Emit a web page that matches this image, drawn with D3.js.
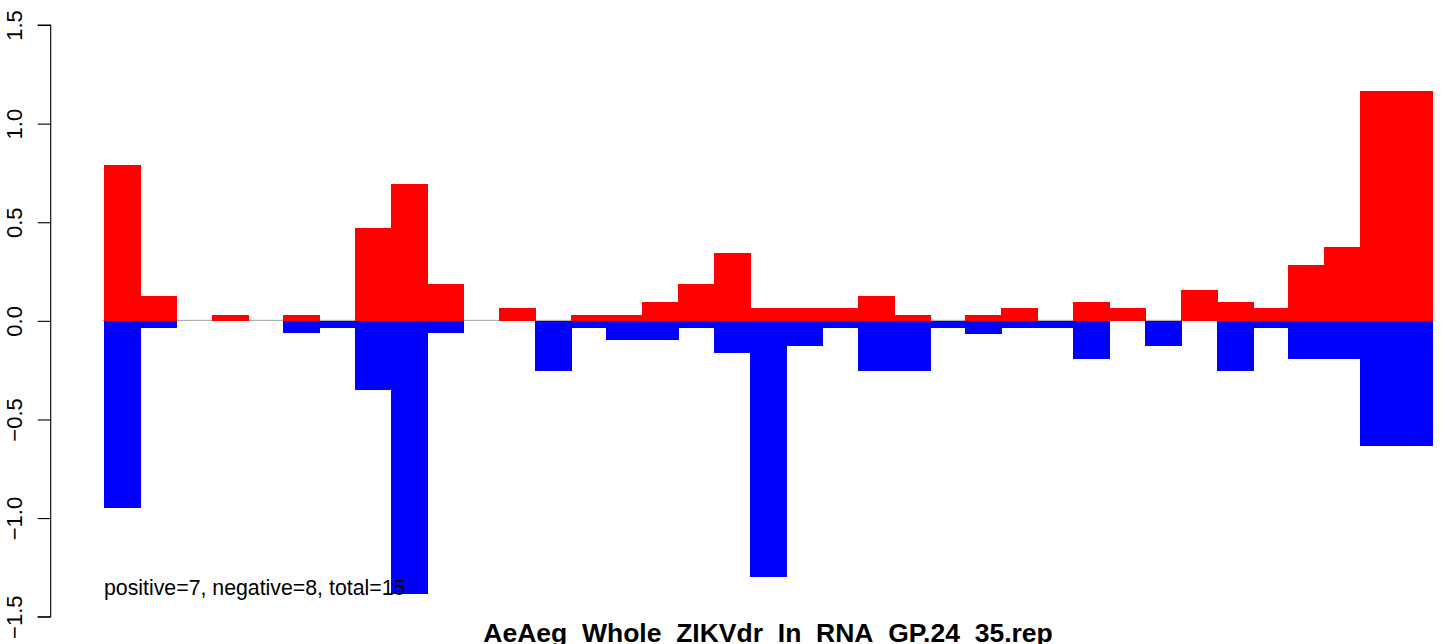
<!DOCTYPE html>
<html>
<head>
<meta charset="utf-8">
<script src="https://cdn.jsdelivr.net/npm/d3@7"></script>
<style>
  body { margin: 0; background: #ffffff; }
  text { font-family: "Liberation Sans", Arial, Helvetica, sans-serif; }
</style>
</head>
<body>
<div id="barplot-posneg"></div>
<script>
// Positive / negative barplot, one column per bin (37 bins, no spacing)

// Data
const bins = d3.range(37).map(i => "b" + (i + 1));
const positive = [0.79, 0.127, 0, 0.032, 0, 0.032, 0, 0.472, 0.695, 0.188,
                  0, 0.063, 0, 0.032, 0.032, 0.095, 0.188, 0.344, 0.063, 0.063,
                  0.063, 0.127, 0.032, 0, 0.032, 0.063, 0, 0.095, 0.063, 0,
                  0.158, 0.095, 0.063, 0.284, 0.376, 1.167, 1.167];
const negative = [-0.948, -0.034, 0, 0, 0, -0.064, -0.034, -0.349, -1.387, -0.064,
                  0, 0, -0.252, -0.034, -0.098, -0.098, -0.034, -0.162, -1.30, -0.129,
                  -0.034, -0.254, -0.254, -0.034, -0.068, -0.034, -0.034, -0.193, 0, -0.127,
                  0, -0.254, -0.034, -0.193, -0.193, -0.635, -0.635];
const yTicks = [-1.5, -1.0, -0.5, 0.0, 0.5, 1.0, 1.5];
const tickLabels = ["\u22121.5", "\u22121.0", "\u22120.5", "0.0", "0.5", "1.0", "1.5"];
const mainTitle = "AeAeg_Whole_ZIKVdr_In_RNA_GP.24_35.rep";
const note = "positive=7, negative=8, total=15";

const width = 1444, height = 644;

const svg = d3.select("#barplot-posneg")
  .append("svg")
  .attr("width", width)
  .attr("height", height);

// Scales
const x = d3.scaleBand()
  .domain(bins)
  .range([104, 1432])
  .padding(0);

const y = d3.scaleLinear()
  .domain([-1.5, 1.5])
  .range([616.7, 25]);

// zero line under the bars
svg.append("line")
  .attr("x1", x.range()[0] - 1)
  .attr("x2", x.range()[1] + 1)
  .attr("y1", y(0) - 0.5)
  .attr("y2", y(0) - 0.5)
  .attr("stroke", "#a0a0a0")
  .attr("stroke-width", 1);

// red bars (positive)
svg.append("g")
  .attr("shape-rendering", "crispEdges")
  .selectAll("rect")
  .data(positive)
  .join("rect")
  .attr("x", (d, i) => x(bins[i]))
  .attr("y", d => y(d))
  .attr("width", x.bandwidth() + 1)
  .attr("height", d => y(0) - y(d))
  .attr("fill", "#ff0000");

// blue bars (negative)
svg.append("g")
  .attr("shape-rendering", "crispEdges")
  .selectAll("rect")
  .data(negative)
  .join("rect")
  .attr("x", (d, i) => x(bins[i]))
  .attr("y", y(0))
  .attr("width", x.bandwidth() + 1)
  .attr("height", d => y(d) - y(0))
  .attr("fill", "#0000ff");

// Y axis, R style: rotated labels
const yAxis = svg.append("g")
  .attr("transform", "translate(50.7,0)")
  .call(d3.axisLeft(y).tickValues(yTicks).tickSize(13).tickFormat((d, i) => tickLabels[i]));

yAxis.select(".domain")
  .attr("d", `M-13,${y(1.5)}H0V${y(-1.5)}H-13`)
  .attr("stroke", "#000")
  .attr("stroke-width", 1.1);

yAxis.selectAll(".tick line")
  .attr("stroke", "#000")
  .attr("stroke-width", 1.1);

yAxis.selectAll(".tick text")
  .attr("x", null)
  .attr("dy", null)
  .attr("transform", "translate(-29,0) rotate(-90)")
  .attr("text-anchor", "middle")
  .attr("fill", "#000")
  .style("font-size", "22px")
  .style("font-family", "'Liberation Sans', Arial, sans-serif");

// note text (over the bars)
svg.append("text")
  .attr("x", 104)
  .attr("y", 595)
  .style("font-size", "21.3px")
  .attr("fill", "#000")
  .text(note);

// Title at the bottom
svg.append("text")
  .attr("x", (x.range()[0] + x.range()[1]) / 2)
  .attr("y", 641.5)
  .attr("text-anchor", "middle")
  .style("font-size", "26.5px")
  .style("font-weight", "bold")
  .attr("fill", "#000")
  .text(mainTitle);
</script>
</body>
</html>
